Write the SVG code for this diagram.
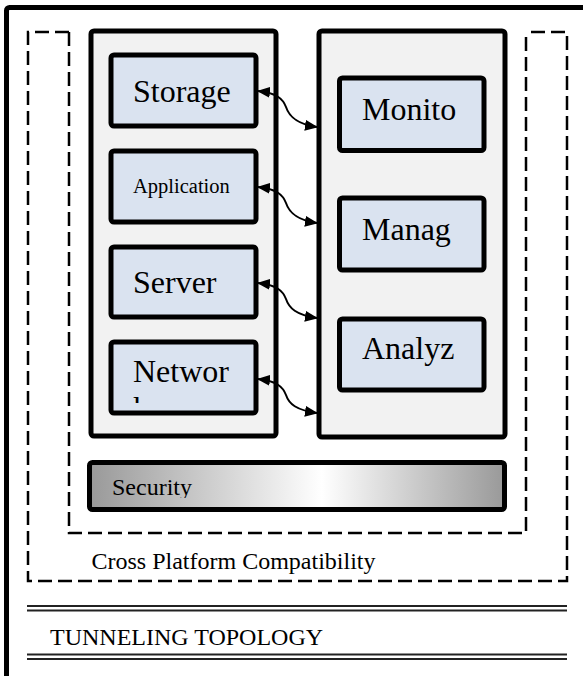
<svg xmlns="http://www.w3.org/2000/svg" width="583" height="676" viewBox="0 0 583 676">
<style>
.panel{fill:#f2f2f2;stroke:#000;stroke-width:5}
.box{fill:#dae3f0;stroke:#000;stroke-width:5}
.dash{fill:none;stroke:#000;stroke-width:2.5;stroke-dasharray:14 6}
.t{font-family:"Liberation Serif","Times New Roman",serif;fill:#000}
.big{font-size:32px}
.mid{font-size:24px}
.conn{fill:none;stroke:#000;stroke-width:2}
.dbl{stroke:#222;stroke-width:2}
</style>
<defs>
<marker id="ah" viewBox="0 0 13 11" refX="12" refY="5.5" markerWidth="13" markerHeight="11" markerUnits="userSpaceOnUse" orient="auto-start-reverse">
<path d="M0,0 L13,5.5 L0,11 z" fill="#000"/>
</marker>
<linearGradient id="secg" x1="0" y1="0" x2="1" y2="0">
<stop offset="0" stop-color="#999"/>
<stop offset="0.56" stop-color="#fff"/>
<stop offset="1" stop-color="#999"/>
</linearGradient>
<clipPath id="clipNet"><rect x="111" y="342" width="145" height="61"/></clipPath>
<clipPath id="clipSec"><rect x="90" y="462" width="415" height="36"/></clipPath>
</defs>
<rect width="583" height="676" fill="#fff"/>
<g id="frame">
<rect x="6.5" y="7.5" width="620" height="720" rx="3" fill="none" stroke="#000" stroke-width="5"/>
</g>
<g id="cross-platform">
<path class="dash" d="M69,32 H28 V581 H567 V32 H526"/>
<text class="t mid" x="91.5" y="569">Cross Platform Compatibility</text>
</g>
<g id="inner-dashed">
<path class="dash" d="M69,32 V533 H526 V32"/>
</g>
<g id="left-panel">
<rect class="panel" x="91" y="31" width="185" height="405" rx="3"/>
</g>
<g id="right-panel">
<rect class="panel" x="319" y="31" width="186" height="406" rx="3"/>
</g>
<g id="storage">
<rect class="box" x="111" y="55" width="145" height="71" rx="3"/>
<text class="t big" x="133" y="102">Storage</text>
</g>
<g id="application">
<rect class="box" x="111" y="151" width="145" height="71" rx="3"/>
<text class="t" font-size="20.5" x="133" y="193">Application</text>
</g>
<g id="server">
<rect class="box" x="111" y="247" width="145" height="70" rx="3"/>
<text class="t big" x="133" y="293">Server</text>
</g>
<g id="network">
<rect class="box" x="111" y="342" width="145" height="71" rx="3"/>
<g clip-path="url(#clipNet)">
<text class="t big" x="133" y="382">Networ</text>
<text class="t big" x="133" y="419">k</text>
</g>
</g>
<g id="monitor">
<rect class="box" x="339.5" y="78" width="144.5" height="72.5" rx="3"/>
<text class="t big" x="362" y="119.5">Monito</text>
</g>
<g id="manage">
<rect class="box" x="339.5" y="198" width="144.5" height="72" rx="3"/>
<text class="t big" x="362" y="239.5">Manag</text>
</g>
<g id="analyze">
<rect class="box" x="339.5" y="319" width="144.5" height="71" rx="3"/>
<text class="t big" x="362" y="358.5">Analyz</text>
</g>
<g id="security">
<rect x="89.5" y="462.5" width="415" height="47" rx="3" fill="url(#secg)" stroke="#000" stroke-width="5"/>
<g clip-path="url(#clipSec)">
<text class="t mid" x="112" y="495">Security</text>
</g>
</g>
<g id="tunneling">
<line class="dbl" x1="27" y1="606" x2="567" y2="606"/>
<line class="dbl" x1="27" y1="610.5" x2="567" y2="610.5"/>
<text class="t mid" x="50" y="645">TUNNELING TOPOLOGY</text>
<line class="dbl" x1="27" y1="654.5" x2="567" y2="654.5"/>
<line class="dbl" x1="27" y1="659" x2="567" y2="659"/>
</g>
<g id="connectors">
<path class="conn" marker-start="url(#ah)" marker-end="url(#ah)" d="M258,91 C277,93 283,99 286,107 C289,116 296,124 317,127"/>
<path class="conn" marker-start="url(#ah)" marker-end="url(#ah)" d="M258,187 C277,189 283,195 286,203 C289,212 296,220 317,223"/>
<path class="conn" marker-start="url(#ah)" marker-end="url(#ah)" d="M258,283 C277,285 283,291 286,299 C289,308 296,315 317,318"/>
<path class="conn" marker-start="url(#ah)" marker-end="url(#ah)" d="M258,379 C277,381 283,387 286,395 C289,404 296,410 317,413"/>
</g>
</svg>
